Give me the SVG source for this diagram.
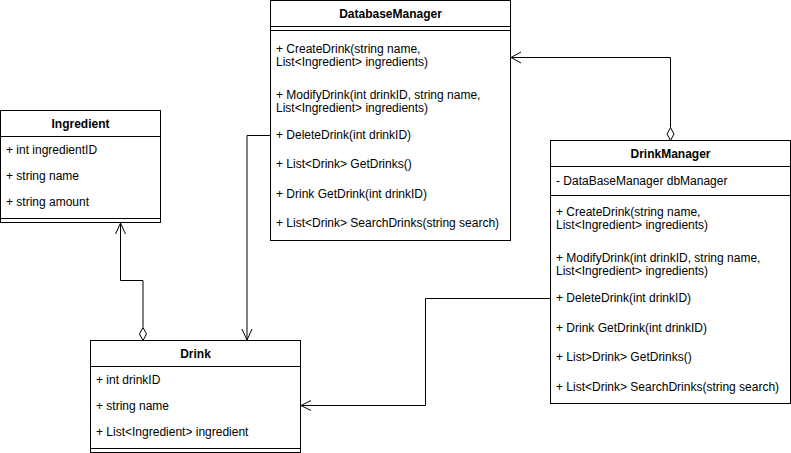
<svg xmlns="http://www.w3.org/2000/svg" width="791" height="453" viewBox="0 0 791 453">
<style>
.box{fill:#fff;stroke:#000;stroke-width:1}
.ln{stroke:#000;stroke-width:1;fill:none}
.t{font-family:"Liberation Sans",Arial,sans-serif;font-size:12px;fill:#000}
.h{font-family:"Liberation Sans",Arial,sans-serif;font-size:12px;font-weight:bold;fill:#000;text-anchor:middle}
.c{stroke:#000;stroke-width:1;fill:none}
.dia{fill:#fff;stroke:#000;stroke-width:1}
</style>
<rect width="791" height="453" fill="#fff"/>
<g id="connectors">
  <path class="c" d="M670.5,127 V57.5 H511"/>
  <path class="c" d="M521,52 L511,57.5 L521,63"/>
  <path class="dia" d="M670.5,127.5 L674,134 L670.5,140.5 L667,134 Z"/>
  <path class="c" d="M270,135.5 H247 V340"/>
  <path class="c" d="M242,329 L247,340 L252,329"/>
  <path class="c" d="M143,327 V280.5 H120.5 V223"/>
  <path class="c" d="M115.5,234 L120.5,223 L125.5,234"/>
  <path class="dia" d="M143,327.5 L146.5,334 L143,340.5 L139.5,334 Z"/>
  <path class="c" d="M550,298.5 H425.5 V405.5 H301"/>
  <path class="c" d="M311,400.5 L301,405.5 L311,410.5"/>
</g>
<g id="DatabaseManager">
  <rect class="box" x="270.5" y="0.5" width="240" height="240"/>
  <line class="ln" x1="270.5" y1="26.5" x2="510.5" y2="26.5"/>
  <line class="ln" x1="270.5" y1="30.5" x2="510.5" y2="30.5"/>
  <text class="h" x="390.5" y="18">DatabaseManager</text>
  <text class="t" x="276" y="52.5">+ CreateDrink(string name,</text>
  <text class="t" x="276" y="66">List&lt;Ingredient&gt; ingredients)</text>
  <text class="t" x="276" y="98.5">+ ModifyDrink(int drinkID, string name,</text>
  <text class="t" x="276" y="112">List&lt;Ingredient&gt; ingredients)</text>
  <text class="t" x="276" y="138.5">+ DeleteDrink(int drinkID)</text>
  <text class="t" x="276" y="168">+ List&lt;Drink&gt; GetDrinks()</text>
  <text class="t" x="276" y="197.5">+ Drink GetDrink(int drinkID)</text>
  <text class="t" x="276" y="227">+ List&lt;Drink&gt; SearchDrinks(string search)</text>
</g>
<g id="Ingredient">
  <rect class="box" x="0.5" y="110.5" width="160" height="112"/>
  <line class="ln" x1="0.5" y1="136.5" x2="160.5" y2="136.5"/>
  <line class="ln" x1="0.5" y1="218.5" x2="160.5" y2="218.5"/>
  <text class="h" x="80.5" y="128">Ingredient</text>
  <text class="t" x="6" y="153.5">+ int ingredientID</text>
  <text class="t" x="6" y="179.5">+ string name</text>
  <text class="t" x="6" y="205.5">+ string amount</text>
</g>
<g id="Drink">
  <rect class="box" x="90.5" y="340.5" width="210" height="112"/>
  <line class="ln" x1="90.5" y1="366.5" x2="300.5" y2="366.5"/>
  <line class="ln" x1="90.5" y1="448.5" x2="300.5" y2="448.5"/>
  <text class="h" x="195.5" y="358">Drink</text>
  <text class="t" x="96" y="383.5">+ int drinkID</text>
  <text class="t" x="96" y="409.5">+ string name</text>
  <text class="t" x="96" y="435.5">+ List&lt;Ingredient&gt; ingredient</text>
</g>
<g id="DrinkManager">
  <rect class="box" x="550.5" y="140.5" width="240" height="263"/>
  <line class="ln" x1="550.5" y1="166.5" x2="790.5" y2="166.5"/>
  <line class="ln" x1="550.5" y1="195.5" x2="790.5" y2="195.5"/>
  <text class="h" x="670.5" y="158">DrinkManager</text>
  <text class="t" x="556" y="184.5">- DataBaseManager dbManager</text>
  <text class="t" x="556" y="215.5">+ CreateDrink(string name,</text>
  <text class="t" x="556" y="229">List&lt;Ingredient&gt; ingredients)</text>
  <text class="t" x="556" y="261.5">+ ModifyDrink(int drinkID, string name,</text>
  <text class="t" x="556" y="275">List&lt;Ingredient&gt; ingredients)</text>
  <text class="t" x="556" y="302">+ DeleteDrink(int drinkID)</text>
  <text class="t" x="556" y="331.5">+ Drink GetDrink(int drinkID)</text>
  <text class="t" x="556" y="361">+ List&gt;Drink&gt; GetDrinks()</text>
  <text class="t" x="556" y="390.5">+ List&lt;Drink&gt; SearchDrinks(string search)</text>
</g>
</svg>
